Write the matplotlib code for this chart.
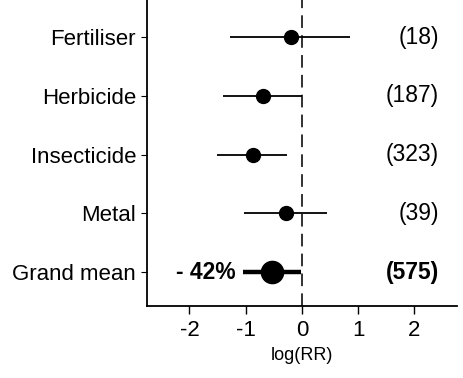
import numpy as np
import matplotlib.pyplot as plt

plt.rcParams['font.family'] = ['Liberation Sans', 'DejaVu Sans']

groups = ['Fertiliser', 'Herbicide', 'Insecticide', 'Metal', 'Grand mean']
means = [-0.19, -0.70, -0.87, -0.29, -0.54]
lower = [-1.28, -1.41, -1.51, -1.03, -1.05]
upper = [0.86, 0.0, -0.26, 0.45, -0.01]
counts = [18, 187, 323, 39, 575]
xticks = [-2, -1, 0, 1, 2]

ypos = np.arange(len(groups), 0, -1)

fig = plt.figure(figsize=(4.63, 3.78), dpi=100)
ax = fig.add_axes([0.318, 0.19, 0.668, 0.81])

ax.axvline(0, color='#222222', linestyle=(0, (7, 4)), linewidth=1.3, zorder=1)

for i, y in enumerate(ypos):
    big = groups[i] == 'Grand mean'
    ax.plot([lower[i], upper[i]], [y, y], color='black',
            linewidth=3.2 if big else 1.3, solid_capstyle='butt', zorder=2)
    ax.plot(means[i], y, 'o', color='black', markersize=16 if big else 10, zorder=3)
    ax.text(2.44, y, '(%d)' % counts[i], ha='right', va='center', fontsize=16.5,
            fontweight='bold' if big else 'normal')

pct = (np.exp(means[-1]) - 1) * 100
ax.text(-1.17, ypos[-1], '- %d%%' % round(abs(pct)), ha='right', va='center',
        fontsize=16.5, fontweight='bold')

ax.set_xlim(-2.75, 2.75)
ax.set_ylim(0.42, 5.63)
ax.set_yticks(ypos)
ax.set_yticklabels(groups, fontsize=16)
ax.set_xticks(xticks)
ax.set_xticklabels([str(t) for t in xticks], fontsize=16)
ax.tick_params(axis='x', length=6, width=1, pad=4)
ax.tick_params(axis='y', length=4, width=0.8, pad=4)
ax.set_xlabel('log(RR)', fontsize=13, labelpad=4)

ax.spines['top'].set_visible(False)
ax.spines['right'].set_visible(False)
ax.spines['left'].set_linewidth(1.3)
ax.spines['bottom'].set_linewidth(1.3)

fig.savefig('out.png', dpi=100)
